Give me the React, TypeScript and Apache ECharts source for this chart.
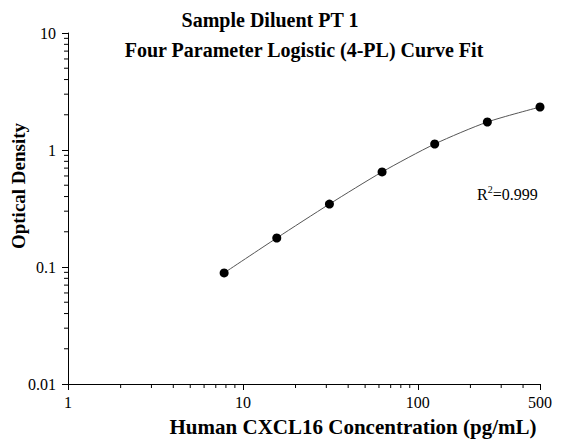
import React, { useEffect, useRef } from "react";
import * as echarts from "echarts";

const concentrations = [7.8125, 15.625, 31.25, 62.5, 125, 250, 500];
const odValues = [0.089, 0.177, 0.345, 0.649, 1.125, 1.735, 2.33];
const xMinorTicks = [2, 3, 4, 5, 6, 7, 8, 9, 20, 30, 40, 50, 60, 70, 80, 90, 200, 300, 400];
const yMinorTicks = [
  0.02, 0.03, 0.04, 0.05, 0.06, 0.07, 0.08, 0.09,
  0.2, 0.3, 0.4, 0.5, 0.6, 0.7, 0.8, 0.9,
  2, 3, 4, 5, 6, 7, 8, 9,
];
const titleLine1 = "Sample Diluent PT 1";
const titleLine2 = "Four Parameter Logistic (4-PL) Curve Fit";
const xName = "Human CXCL16 Concentration (pg/mL)";
const yName = "Optical Density";
const X_MIN = 1;
const X_MAX = 500;
const Y_MIN = 0.01;
const Y_MAX = 10;

const FONT = "'Liberation Serif', 'Times New Roman', serif";

export default function App() {
  const ref = useRef<HTMLDivElement>(null);
  useEffect(() => {
    if (!ref.current) return;
    const chart = echarts.init(ref.current, null, { renderer: "svg" });
    const fmt = (v: number) => String(Number(v.toPrecision(3)));
    chart.setOption({
      animation: false,
      backgroundColor: "#fff",
      textStyle: { fontFamily: FONT },
      grid: { left: 68, right: 22, top: 33, bottom: 55, containLabel: false },
      xAxis: {
        type: "log",
        logBase: 10,
        min: X_MIN,
        max: X_MAX,
        axisLine: { show: true, onZero: false, lineStyle: { color: "#000", width: 1 } },
        axisTick: { show: true, length: 6, lineStyle: { color: "#000" } },
        axisLabel: { color: "#000", fontFamily: FONT, fontSize: 16, margin: 10, formatter: fmt },
        splitLine: { show: false },
      },
      yAxis: {
        type: "log",
        logBase: 10,
        min: Y_MIN,
        max: Y_MAX,
        axisLine: { show: true, onZero: false, lineStyle: { color: "#000", width: 1 } },
        axisTick: { show: true, length: 6, lineStyle: { color: "#000" } },
        axisLabel: { color: "#000", fontFamily: FONT, fontSize: 16, margin: 12, formatter: fmt },
        splitLine: { show: false },
      },
      graphic: [
        {
          type: "text",
          x: 270,
          y: 20,
          style: { text: titleLine1, font: `bold 20px ${FONT}`, fill: "#000", textAlign: "center", textVerticalAlign: "middle" },
        },
        {
          type: "text",
          x: 304,
          y: 50,
          style: { text: titleLine2, font: `bold 20px ${FONT}`, fill: "#000", textAlign: "center", textVerticalAlign: "middle" },
        },
        {
          type: "text",
          x: 353,
          y: 427,
          style: { text: xName, font: `bold 21px ${FONT}`, fill: "#000", textAlign: "center", textVerticalAlign: "middle" },
        },
        {
          type: "text",
          x: 18,
          y: 186,
          rotation: Math.PI / 2,
          style: { text: yName, font: `bold 19px ${FONT}`, fill: "#000", textAlign: "center", textVerticalAlign: "middle" },
        },
        {
          type: "text",
          x: 477,
          y: 184,
          style: {
            text: "{m|R}{s|2}{m|=0.999}",
            fill: "#000",
            rich: {
              m: { fontFamily: FONT, fontSize: 16, lineHeight: 18, verticalAlign: "bottom" },
              s: { fontFamily: FONT, fontSize: 10, lineHeight: 18, verticalAlign: "top", padding: [0, 0, 7, 0] },
            },
          },
        },
      ],
      series: [
        {
          type: "line",
          data: concentrations.map((c, i) => [c, odValues[i]]),
          smooth: 0.25,
          symbol: "circle",
          symbolSize: 9,
          itemStyle: { color: "#000" },
          lineStyle: { color: "#555", width: 1 },
          z: 3,
        },
        {
          type: "custom",
          clip: false,
          silent: true,
          data: xMinorTicks.map((v) => [v, Y_MIN]),
          renderItem: (params: any, api: any) => {
            const p = api.coord([api.value(0), api.value(1)]);
            return {
              type: "line",
              shape: { x1: p[0], y1: p[1], x2: p[0], y2: p[1] + 4 },
              style: { stroke: "#000", lineWidth: 1 },
            };
          },
        },
        {
          type: "custom",
          clip: false,
          silent: true,
          data: yMinorTicks.map((v) => [X_MIN, v]),
          renderItem: (params: any, api: any) => {
            const p = api.coord([api.value(0), api.value(1)]);
            return {
              type: "line",
              shape: { x1: p[0] - 4, y1: p[1], x2: p[0], y2: p[1] },
              style: { stroke: "#000", lineWidth: 1 },
            };
          },
        },
      ],
    });
    return () => chart.dispose();
  }, []);
  return <div ref={ref} style={{ width: 562, height: 439, position: "absolute", left: 0, top: 0 }} />;
}
